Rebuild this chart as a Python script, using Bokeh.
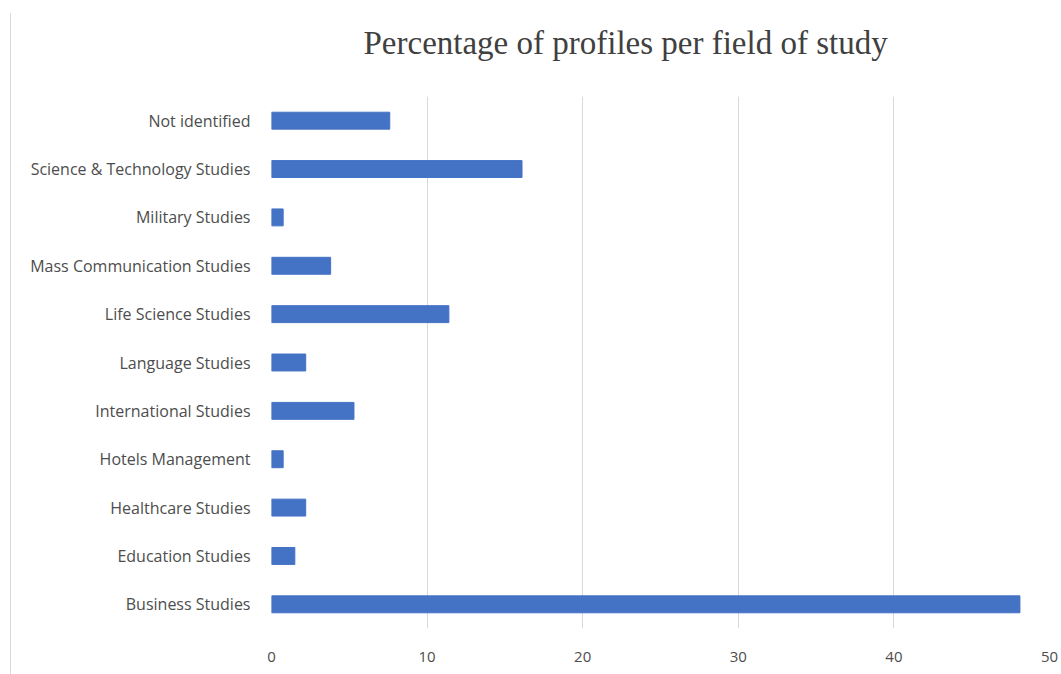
from bokeh.plotting import figure
from bokeh.models import FactorRange, Range1d, FixedTicker, Title
from bokeh.embed import file_html
from bokeh.resources import INLINE

categories = [
    "Not identified",
    "Science & Technology Studies",
    "Military Studies",
    "Mass Communication Studies",
    "Life Science Studies",
    "Language Studies",
    "International Studies",
    "Hotels Management",
    "Healthcare Studies",
    "Education Studies",
    "Business Studies",
]
values = [7.6, 16.1, 0.75, 3.8, 11.4, 2.2, 5.3, 0.75, 2.2, 1.5, 48.1]
x_ticks = [0, 10, 20, 30, 40, 50]

factors = list(reversed(categories))
vals = list(reversed(values))

p = figure(
    width=1051, height=661,
    y_range=FactorRange(*factors),
    x_range=Range1d(0, 50),
    output_backend="svg", toolbar_location=None,
    min_border_left=260, min_border_right=13,
    min_border_top=83, min_border_bottom=46,
    title="Percentage of profiles per field of study",
)
p.margin = (13, 0, 0, 10)
p.styles = {"border-left": "1px solid #d9d9d9"}

p.hbar(y=factors, right=vals, left=0, height=0.35, color="#4472C4")

# spacer between frame and title
p.add_layout(Title(text=" ", text_font_size="17px"), "above")

p.outline_line_color = None
p.title.text_font = "Liberation Serif"
p.title.text_font_size = "33px"
p.title.text_font_style = "normal"
p.title.text_color = "#404040"
p.title.align = "left"
p.title.offset = 92

p.xaxis.ticker = FixedTicker(ticks=x_ticks)
p.xgrid.ticker = FixedTicker(ticks=x_ticks)
p.xgrid.grid_line_color = "#d9d9d9"
p.ygrid.grid_line_color = None
for ax in (p.xaxis, p.yaxis):
    ax.axis_line_color = None
    ax.major_tick_line_color = None
    ax.minor_tick_line_color = None
    ax.major_label_text_font = "Open Sans"
    ax.major_label_text_color = "#4d4d4d"
p.yaxis.major_label_text_font_size = "16px"
p.xaxis.major_label_text_font_size = "15px"
p.xaxis.major_label_standoff = 17
p.yaxis.major_label_standoff = 15

open("out.html", "w").write(file_html(p, INLINE))
